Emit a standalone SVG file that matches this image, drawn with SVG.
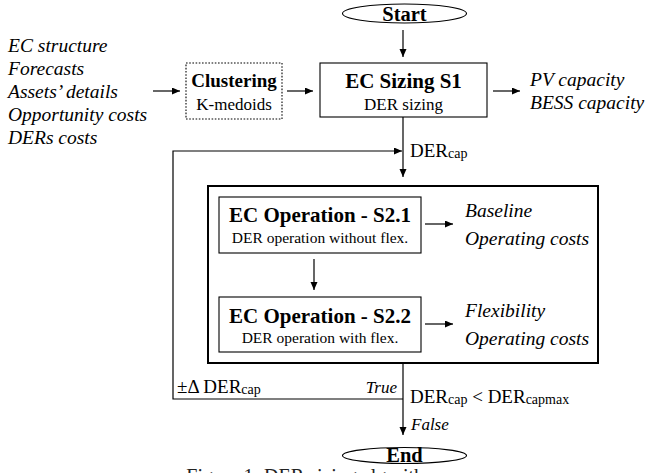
<svg xmlns="http://www.w3.org/2000/svg" width="647" height="473" viewBox="0 0 647 473" font-family="'Liberation Serif', 'DejaVu Serif', serif">
<style>
text{font-family:'Liberation Serif','DejaVu Serif',serif;fill:#000}
.t{font-weight:bold;font-size:21px;text-anchor:middle}
.s{font-size:15.5px;text-anchor:middle}
.i{font-style:italic;font-size:19.5px}
.r{font-size:19px}
.sub{font-size:14px}
.box{fill:#fff;stroke:#000;stroke-width:1.1}
.ln{fill:none;stroke:#000;stroke-width:1.2}
</style>
<defs>
<marker id="ah" markerUnits="userSpaceOnUse" markerWidth="9" markerHeight="8" refX="8" refY="3.5" orient="auto">
<path d="M0,0 L8,3.5 L0,7 z" fill="#000"/>
</marker>
</defs>
<g id="start">
<ellipse cx="404.5" cy="13.5" rx="62" ry="9.5" class="box"/>
<text x="404.5" y="20.5" class="t" style="font-size:20.5px">Start</text>
</g>
<g id="inputs">
<text x="8" y="52" class="i">EC structure</text>
<text x="8" y="75" class="i">Forecasts</text>
<text x="8" y="98" class="i">Assets’ details</text>
<text x="8" y="121" class="i">Opportunity costs</text>
<text x="8" y="144" class="i">DERs costs</text>
</g>
<g id="clustering">
<rect x="186" y="63" width="96" height="56" fill="#fff" stroke="#000" stroke-width="1.1" stroke-dasharray="1.6 1.6"/>
<text x="234" y="87" class="t" style="font-size:19px">Clustering</text>
<text x="234" y="110" class="s" style="font-size:17px">K-medoids</text>
</g>
<g id="sizing">
<rect x="320" y="63" width="167" height="54" class="box"/>
<text x="403.5" y="88" class="t">EC Sizing S1</text>
<text x="403.5" y="110" class="s" style="font-size:17px">DER sizing</text>
</g>
<g id="sizing-out">
<text x="530" y="86" class="i">PV capacity</text>
<text x="530" y="109" class="i">BESS capacity</text>
</g>
<g id="operation">
<rect x="208" y="186" width="390" height="177" fill="none" stroke="#000" stroke-width="2"/>
</g>
<g id="s21">
<rect x="219" y="197" width="202" height="56" class="box"/>
<text x="320" y="222" class="t">EC Operation - S2.1</text>
<text x="320" y="243" class="s">DER operation without flex.</text>
</g>
<g id="s21-out">
<text x="465" y="217" class="i">Baseline</text>
<text x="465" y="245" class="i">Operating costs</text>
</g>
<g id="s22">
<rect x="219" y="297" width="202" height="55" class="box"/>
<text x="320" y="323" class="t">EC Operation - S2.2</text>
<text x="320" y="343" class="s">DER operation with flex.</text>
</g>
<g id="s22-out">
<text x="465" y="317" class="i">Flexibility</text>
<text x="465" y="345" class="i">Operating costs</text>
</g>
<g id="end">
<ellipse cx="404.5" cy="455.5" rx="62" ry="8" class="box"/>
<text x="404.5" y="461.5" class="t" style="font-size:20.5px">End</text>
</g>
<g id="connectors">
<line x1="403" y1="30" x2="403" y2="57" class="ln" marker-end="url(#ah)"/>
<line x1="153" y1="91" x2="180" y2="91" class="ln" marker-end="url(#ah)"/>
<line x1="287" y1="91" x2="313" y2="91" class="ln" marker-end="url(#ah)"/>
<line x1="493" y1="91" x2="520" y2="91" class="ln" marker-end="url(#ah)"/>
<line x1="403" y1="117" x2="403" y2="177" class="ln" marker-end="url(#ah)"/>
<polyline points="403,399 173,399 173,151 402,151" class="ln" marker-end="url(#ah)"/>
<line x1="314" y1="259" x2="314" y2="290" class="ln" marker-end="url(#ah)"/>
<line x1="425" y1="224" x2="453" y2="224" class="ln" marker-end="url(#ah)"/>
<line x1="425" y1="324" x2="453" y2="324" class="ln" marker-end="url(#ah)"/>
<line x1="403" y1="363" x2="403" y2="435" class="ln" marker-end="url(#ah)"/>
</g>
<g id="labels">
<text x="410" y="157" class="r">DER<tspan class="sub" dy="1">cap</tspan></text>
<text x="177" y="393" class="r">±Δ DER<tspan class="sub" dy="1">cap</tspan></text>
<text x="397" y="393" class="i" style="font-size:17px;text-anchor:end">True</text>
<text x="410" y="403" class="r">DER<tspan class="sub" dy="1">cap</tspan><tspan dy="-1"> &lt; DER</tspan><tspan class="sub" dy="1">capmax</tspan></text>
<text x="411" y="430" class="i" style="font-size:17px">False</text>
</g>
<text x="313" y="482.5" style="font-size:20px;text-anchor:middle;fill:#222">Figure 1: DER sizing algorithm</text>
</svg>
